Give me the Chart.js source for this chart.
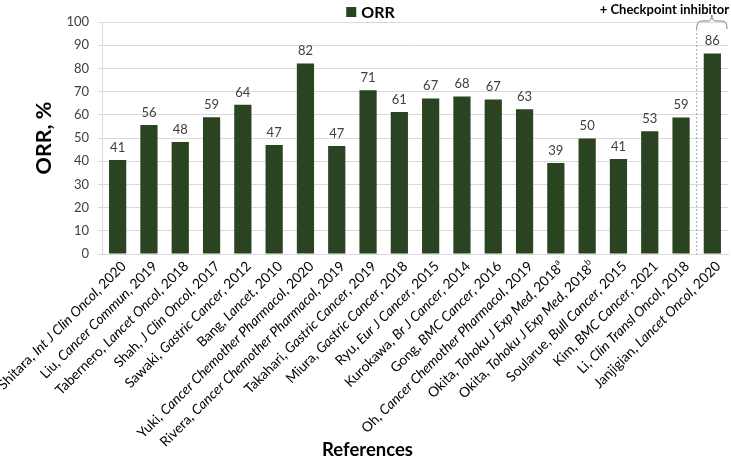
<!DOCTYPE html>
<html>
<head>
<meta charset="utf-8">
<script src="https://cdn.jsdelivr.net/npm/chart.js@4"></script>
<style>
  html, body { margin: 0; padding: 0; background: #fff; }
  #wrap { width: 731px; height: 464px; position: relative; }
</style>
</head>
<body>
<div id="wrap"><canvas id="orrChart"></canvas></div>
<script>
const authors = ["Shitara", "Liu", "Tabernero", "Shah", "Sawaki", "Bang", "Yuki", "Rivera", "Takahari", "Miura",
  "Ryu", "Kurokawa", "Gong", "Oh", "Okita", "Okita", "Soularue", "Kim", "Li", "Janjigian"];
const journals = ["Int J Clin Oncol", "Cancer Commun", "Lancet Oncol", "J Clin Oncol", "Gastric Cancer", "Lancet",
  "Cancer Chemother Pharmacol", "Cancer Chemother Pharmacol", "Gastric Cancer", "Gastric Cancer",
  "Eur J Cancer", "Br J Cancer", "BMC Cancer", "Cancer Chemother Pharmacol", "Tohoku J Exp Med",
  "Tohoku J Exp Med", "Bull Cancer", "BMC Cancer", "Clin Transl Oncol", "Lancet Oncol"];
const years = ["2020", "2019", "2018", "2017", "2012", "2010", "2020", "2019", "2019", "2018",
  "2015", "2014", "2016", "2019", "2018", "2018", "2015", "2021", "2018", "2020"];
const notes = ["", "", "", "", "", "", "", "", "", "", "", "", "", "", "a", "b", "", "", "", ""];
const orr = [40.5, 55.6, 48.3, 58.9, 64.3, 47.0, 82.1, 46.6, 70.6, 61.2,
  67.0, 67.9, 66.6, 62.4, 39.2, 49.8, 40.9, 52.9, 58.8, 86.4];
const orrLabels = ["41", "56", "48", "59", "64", "47", "82", "47", "71", "61",
  "67", "68", "67", "63", "39", "50", "41", "53", "59", "86"];
const yTicks = [0, 10, 20, 30, 40, 50, 60, 70, 80, 90, 100];
const checkpointFrom = 19; // index of first checkpoint inhibitor study

const FONT = "Lato";
const TEXT = "#404040";
const BAR = "#2a4321";

const valueLabels = {
  id: "valueLabels",
  afterDatasetsDraw(chart) {
    const ctx = chart.ctx;
    const meta = chart.getDatasetMeta(0);
    ctx.save();
    ctx.font = "13px " + FONT;
    ctx.fillStyle = TEXT;
    ctx.textAlign = "center";
    ctx.textBaseline = "bottom";
    meta.data.forEach((bar, i) => {
      ctx.fillText(orrLabels[i], bar.x, bar.y - 6);
    });
    ctx.restore();
  }
};

// legend and x title drawn by hand: both centred on the whole canvas, not the plot
const extraText = {
  id: "extraText",
  afterDraw(chart) {
    const ctx = chart.ctx;
    const ds = chart.data.datasets[0];
    const cx = chart.width / 2;
    ctx.save();
    ctx.font = "bold 16px " + FONT;
    const w = ctx.measureText(ds.label).width;
    const x0 = cx + 5 - (w + 15) / 2;
    ctx.fillStyle = ds.backgroundColor;
    ctx.fillRect(x0, 7, 10, 10);
    ctx.fillStyle = "#000";
    ctx.textBaseline = "middle";
    ctx.fillText(ds.label, x0 + 15, 12.5);

    ctx.font = "bold 18.5px " + FONT;
    ctx.textAlign = "center";
    ctx.fillText("References", cx + 2, 450);
    ctx.restore();
  }
};

const refLabels = {
  id: "refLabels",
  afterDraw(chart) {
    const ctx = chart.ctx;
    const x = chart.scales.x;
    const size = 13.8;
    ctx.save();
    ctx.fillStyle = "#000";
    ctx.textBaseline = "middle";
    ctx.textAlign = "left";
    authors.forEach((a, i) => {
      const parts = [
        { t: a + ", ", f: size + "px " + FONT },
        { t: journals[i], f: "italic " + size + "px " + FONT },
        { t: ", " + years[i], f: size + "px " + FONT }
      ];
      if (notes[i]) parts.push({ t: notes[i], f: "9px " + FONT, sup: true });
      let total = 0;
      parts.forEach(p => { ctx.font = p.f; p.w = ctx.measureText(p.t).width; total += p.w; });
      ctx.save();
      ctx.translate(x.getPixelForValue(i) + 6, x.top + 10);
      ctx.rotate(-Math.PI / 4);
      let cx = -total;
      parts.forEach(p => {
        ctx.font = p.f;
        ctx.fillText(p.t, cx, p.sup ? -5 : 0);
        cx += p.w;
      });
      ctx.restore();
    });
    ctx.restore();
  }
};

const checkpointNote = {
  id: "checkpointNote",
  afterDraw(chart) {
    const ctx = chart.ctx;
    const x = chart.scales.x;
    const area = chart.chartArea;
    const lx = (x.getPixelForValue(checkpointFrom - 1) + x.getPixelForValue(checkpointFrom)) / 2;
    const rx = area.right - 1;
    const mx = (lx + rx) / 2;
    const top = area.top - 1;
    ctx.save();
    ctx.strokeStyle = "#a6a6a6";
    ctx.lineWidth = 1;
    ctx.setLineDash([2, 2]);
    ctx.beginPath();
    ctx.moveTo(lx, top + 8);
    ctx.lineTo(lx, area.bottom);
    ctx.stroke();
    ctx.setLineDash([]);
    ctx.strokeStyle = "#7f7f7f";
    ctx.beginPath();
    ctx.moveTo(lx, top + 8);
    ctx.quadraticCurveTo(lx, top, lx + 5, top);
    ctx.lineTo(mx - 4, top);
    ctx.quadraticCurveTo(mx, top, mx, top - 6);
    ctx.quadraticCurveTo(mx, top, mx + 4, top);
    ctx.lineTo(rx - 5, top);
    ctx.quadraticCurveTo(rx, top, rx, top + 8);
    ctx.stroke();
    ctx.font = "bold 13px " + FONT;
    ctx.fillStyle = "#000";
    ctx.textAlign = "right";
    ctx.textBaseline = "middle";
    ctx.fillText("+ Checkpoint inhibitor", 729, 10);
    ctx.restore();
  }
};

new Chart(document.getElementById("orrChart"), {
  type: "bar",
  data: {
    labels: authors.map((a, i) => a + ", " + journals[i] + ", " + years[i]),
    datasets: [{
      label: "ORR",
      data: orr,
      backgroundColor: BAR,
      borderWidth: 0,
      barPercentage: 0.55,
      categoryPercentage: 1
    }]
  },
  options: {
    responsive: true,
    maintainAspectRatio: false,
    animation: false,
    layout: { padding: { top: 22, right: 3, left: 0, bottom: 0 } },
    plugins: {
      legend: { display: false },
      tooltip: { enabled: false }
    },
    scales: {
      x: {
        afterFit: scale => { scale.height = 210; },
        grid: { display: false },
        border: { color: "#d9d9d9" },
        ticks: { display: false }
      },
      y: {
        min: 0,
        max: 100,
        afterBuildTicks: scale => { scale.ticks = yTicks.map(v => ({ value: v })); },
        afterFit: scale => { scale.width = 102; },
        grid: { color: "#d9d9d9", tickLength: 4 },
        border: { color: "#d9d9d9" },
        ticks: {
          color: TEXT,
          font: { family: FONT, size: 13 },
          padding: 9
        },
        title: {
          display: true,
          text: "ORR, %",
          color: "#000",
          font: { family: FONT, size: 21.5, weight: "bold" },
          padding: { top: 31, bottom: 0 }
        }
      }
    }
  },
  plugins: [valueLabels, extraText, refLabels, checkpointNote]
});
</script>
</body>
</html>
